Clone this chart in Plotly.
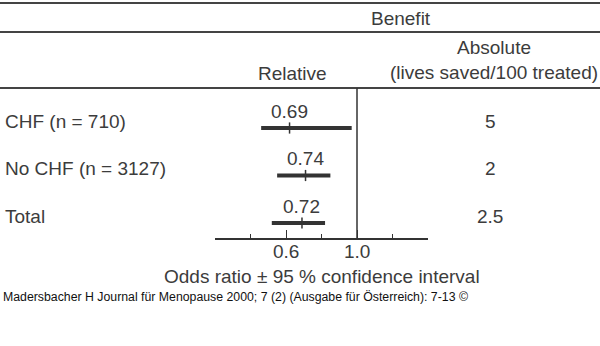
import plotly.graph_objects as go

# ---- data ----
groups = ["CHF (n = 710)", "No CHF (n = 3127)", "Total"]
or_labels = ["0.69", "0.74", "0.72"]
or_drawn = [0.62, 0.71, 0.69]      # point estimate positions as drawn
ci_low = [0.46, 0.55, 0.52]
ci_high = [0.97, 0.85, 0.82]
absolute = ["5", "2", "2.5"]
tick_major = [0.6, 1.0]
tick_major_text = ["0.6", "1.0"]
tick_minor = [0.4, 0.8, 1.2]

W, H = 600, 346
FONT = "Liberation Sans"
FS = 19
TXT = "#3c3c3c"
LINE = "#333333"


def py(y):
    return 1 - y / H


def px(x):
    return x / W


rows = list(range(len(groups)))

fig = go.Figure()

# CI bars
xs, ys = [], []
for i, (lo, hi) in enumerate(zip(ci_low, ci_high)):
    xs += [lo, hi, None]
    ys += [i, i, None]
fig.add_trace(go.Scatter(x=xs, y=ys, mode="lines",
                         line=dict(color=LINE, width=4), hoverinfo="skip",
                         showlegend=False))
# point estimates
fig.add_trace(go.Scatter(x=or_drawn, y=rows, mode="markers",
                         marker=dict(symbol="line-ns", size=8,
                                     line=dict(color=LINE, width=1.5)),
                         showlegend=False))

ann = []
for i, g in enumerate(groups):
    ann.append(dict(x=px(3), xref="paper", y=i, yref="y", yshift=7,
                    text=g, showarrow=False, xanchor="left", yanchor="middle",
                    font=dict(family=FONT, size=FS, color=TXT)))
    ann.append(dict(x=px(490), xref="paper", y=i, yref="y", yshift=7,
                    text=absolute[i], showarrow=False, xanchor="center",
                    yanchor="middle",
                    font=dict(family=FONT, size=FS, color=TXT)))
    ann.append(dict(x=or_drawn[i], xref="x", y=i, yref="y", yshift=17,
                    text=or_labels[i], showarrow=False, xanchor="center",
                    yanchor="middle",
                    font=dict(family=FONT, size=FS, color=TXT)))

hdr = [
    dict(x=px(401), y=py(18), text="Benefit"),
    dict(x=px(494), y=py(60), text="Absolute<br>(lives saved/100 treated)"),
    dict(x=px(292), y=py(74), text="Relative"),
    dict(x=px(322), y=py(276), text="Odds ratio ± 95 % confidence interval"),
]
for a in hdr:
    a.update(xref="paper", yref="paper", showarrow=False, xanchor="center",
             yanchor="middle", font=dict(family=FONT, size=FS, color=TXT))
ann += hdr

# tick labels
for v, t in zip(tick_major, tick_major_text):
    ann.append(dict(x=v, xref="x", y=py(251), yref="paper", text=t,
                    showarrow=False, xanchor="center", yanchor="middle",
                    font=dict(family=FONT, size=FS, color=TXT)))

ann.append(dict(x=px(1), y=py(297), xref="paper", yref="paper",
                text="Madersbacher H Journal für Menopause 2000; 7 (2) (Ausgabe für Österreich): 7-13 ©",
                showarrow=False, xanchor="left", yanchor="middle",
                font=dict(family="Liberation Sans", size=12.3, color="#111111")))

shapes = []
for yy in [3, 32, 88]:
    shapes.append(dict(type="line", xref="paper", yref="paper", x0=0, x1=1,
                       y0=py(yy), y1=py(yy), line=dict(color="#444444", width=2)))
shapes.append(dict(type="line", xref="x", yref="paper", x0=1.0, x1=1.0,
                   y0=py(238), y1=py(88), line=dict(color=LINE, width=1.5)))

# y mapping: row i at pixel 128 + 47.5*i, domain pixel 0..238
y_top = -128 / 47.5
y_bot = (238 - 128) / 47.5

fig.update_layout(
    width=W, height=H, margin=dict(l=0, r=0, t=0, b=0),
    paper_bgcolor="white", plot_bgcolor="white",
    annotations=ann, shapes=shapes,
    xaxis=dict(domain=[px(215), px(428)], range=[0.2, 1.4],
               showgrid=False, zeroline=False, showline=True,
               linecolor=LINE, linewidth=1.5,
               tickvals=tick_major, showticklabels=False,
               ticks="inside", ticklen=8, tickwidth=1.2, tickcolor=LINE,
               minor=dict(tickvals=tick_minor, ticks="inside", ticklen=4,
                          tickwidth=1.2, tickcolor=LINE),
               fixedrange=True),
    yaxis=dict(domain=[py(238), 1], range=[y_bot, y_top], visible=False,
               fixedrange=True),
)

fig.write_html("out.html")
